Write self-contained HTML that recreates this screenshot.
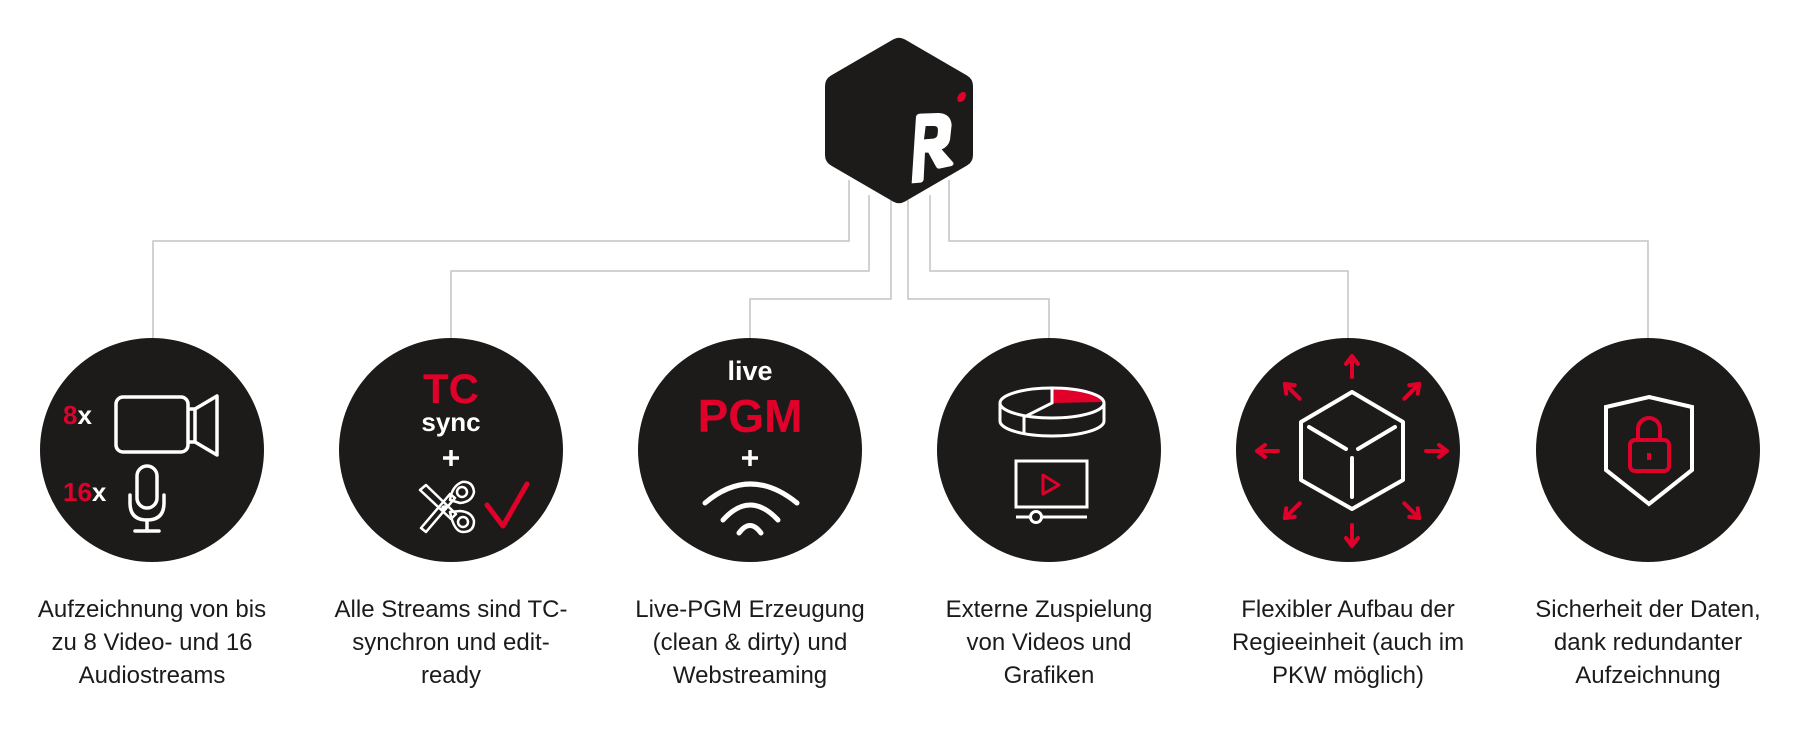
<!DOCTYPE html>
<html><head><meta charset="utf-8"><style>
html,body{margin:0;padding:0;background:#fff;}
svg{display:block}
</style></head><body>
<svg width="1798" height="746" viewBox="0 0 1798 746" xmlns="http://www.w3.org/2000/svg">
<g fill="none" stroke="#c4c4c4" stroke-width="1.5">
<polyline points="849,180 849,241 153,241 153,338"/>
<polyline points="869,195 869,271 451,271 451,338"/>
<polyline points="891,200 891,299 750,299 750,338"/>
<polyline points="908,200 908,299 1049,299 1049,338"/>
<polyline points="930,195 930,271 1348,271 1348,338"/>
<polyline points="949,180 949,241 1648,241 1648,338"/>
</g>
<path d="M893,39.5 Q899,36 905,39.5 L967,75.5 Q973,79 973,86 L973,155 Q973,162 967,165.5 L905,201.5 Q899,205 893,201.5 L831,165.5 Q825,162 825,155 L825,86 Q825,79 831,75.5 Z" fill="#1c1b1a"/>
<g transform="translate(800,20) scale(0.3333)">
<path d="M335,490 L348,290 Q350,282 360,281 L415,279 Q452,280 455,315 L450,360 Q445,380 425,388 L460,428 Q462,435 455,438 L418,446 Q412,447 408,440 L385,398 L375,398 L371,478 Q370,486 362,488 Z M377,318 L372,358 L400,356 Q412,354 413,342 L414,330 Q414,318 402,318 Z" fill="#fff" fill-rule="evenodd"/>
<ellipse cx="485" cy="231" rx="11" ry="17" transform="rotate(35 485 231)" fill="#e1002a"/>
</g>
<g fill="#1c1b1a">
<circle cx="152" cy="450" r="112"/><circle cx="451" cy="450" r="112"/><circle cx="750" cy="450" r="112"/>
<circle cx="1049" cy="450" r="112"/><circle cx="1348" cy="450" r="112"/><circle cx="1648" cy="450" r="112"/>
</g>
<!-- circle 1 -->
<g font-family="Liberation Sans, sans-serif" font-weight="bold" font-size="26">
<text x="63" y="424"><tspan fill="#e1002a">8</tspan><tspan fill="#fff">x</tspan></text>
<text x="63" y="501"><tspan fill="#e1002a">16</tspan><tspan fill="#fff">x</tspan></text>
</g>
<g fill="none" stroke="#fff" stroke-width="3.5" stroke-linejoin="round" stroke-linecap="round">
<rect x="116" y="397" width="72" height="55" rx="7"/>
<path d="M189,409 L195,409 L217,396 L217,455 L195,442 L189,442"/>
<line x1="195" y1="409" x2="195" y2="442"/>
<rect x="137" y="466" width="20" height="42" rx="10"/>
<path d="M130,495 L130,503 Q130,520 147,520 Q164,520 164,503 L164,495"/>
<line x1="147" y1="520" x2="147" y2="531"/><line x1="135" y1="531" x2="159" y2="531"/>
</g>
<!-- circle 2 -->
<text x="451" y="403" text-anchor="middle" font-family="Liberation Sans, sans-serif" font-weight="bold" font-size="42" fill="#e1002a">TC</text>
<text x="451" y="431" text-anchor="middle" font-family="Liberation Sans, sans-serif" font-weight="bold" font-size="26" fill="#fff">sync</text>
<g stroke="#fff" stroke-width="3.5"><line x1="451" y1="450" x2="451" y2="466"/><line x1="443" y1="458" x2="459" y2="458"/></g>
<g fill="none" stroke="#fff" stroke-width="2.5" stroke-linejoin="round">
<path d="M420,490 L426,485 L456,514 L451,519 Z"/>
<path d="M421,528 L426,532 L455,498 L450,494 Z"/>
<path d="M450,500 Q452,486 462,482 Q473,481 474,492 Q472,502 460,503 Z"/>
<circle cx="462" cy="492" r="5"/>
<path d="M450,512 Q454,532 463,532 Q474,532 474,521 Q472,512 460,511 Z"/>
<circle cx="463" cy="522" r="5"/>
<circle cx="444" cy="508" r="1.5" fill="#fff"/>
</g>
<path d="M487,505 L503,526 L527,484" fill="none" stroke="#e1002a" stroke-width="5" stroke-linecap="round" stroke-linejoin="round"/>
<!-- circle 3 -->
<text x="750" y="380" text-anchor="middle" font-family="Liberation Sans, sans-serif" font-weight="bold" font-size="27" fill="#fff">live</text>
<text x="750" y="432" text-anchor="middle" font-family="Liberation Sans, sans-serif" font-weight="bold" font-size="46" fill="#e1002a">PGM</text>
<g stroke="#fff" stroke-width="3.5"><line x1="750" y1="450" x2="750" y2="466"/><line x1="742" y1="458" x2="758" y2="458"/></g>
<g fill="none" stroke="#fff" stroke-width="5" stroke-linecap="round">
<path d="M705,503 Q750,465 797,503"/>
<path d="M723,520 Q750,490 778,520"/>
<path d="M739,533 Q750,518 761,533"/>
</g>
<!-- circle 4 -->
<path d="M1052,403 L1052,388 A52,15 0 0 1 1103,402 Z" fill="#e1002a"/>
<g fill="none" stroke="#fff" stroke-width="3">
<ellipse cx="1052" cy="403" rx="52" ry="15"/>
<path d="M1000,403 L1000,421 A52,15 0 0 0 1104,421 L1104,403"/>
<path d="M1052,388 L1052,403 L1024,417 L1024,434"/>
<rect x="1016" y="461" width="71" height="46"/>
<line x1="1016" y1="517" x2="1030" y2="517"/><line x1="1042" y1="517" x2="1087" y2="517"/>
<circle cx="1036" cy="517" r="5.5"/>
</g>
<path d="M1043,475 L1059,485 L1043,494 Z" fill="none" stroke="#e1002a" stroke-width="3" stroke-linejoin="round"/>
<!-- circle 5 -->
<g fill="none" stroke="#fff" stroke-width="4" stroke-linejoin="round" stroke-linecap="round">
<path d="M1352,392 L1403,422 L1403,480 L1352,509 L1301,480 L1301,422 Z"/>
<line x1="1309" y1="427" x2="1346" y2="449"/><line x1="1395" y1="427" x2="1358" y2="449"/><line x1="1352" y1="458" x2="1352" y2="497"/>
</g>
<g stroke="#e1002a" stroke-width="4" fill="none" stroke-linecap="round" stroke-linejoin="round">
<g transform="translate(1352,451)">
<g id="ar"><line x1="0" y1="-74" x2="0" y2="-94"/><path d="M-6,-87 L0,-95 L6,-87"/></g>
<use href="#ar" transform="rotate(45)"/><use href="#ar" transform="rotate(90)"/><use href="#ar" transform="rotate(135)"/>
<use href="#ar" transform="rotate(180)"/><use href="#ar" transform="rotate(225)"/><use href="#ar" transform="rotate(270)"/><use href="#ar" transform="rotate(315)"/>
</g>
</g>
<!-- circle 6 -->
<path d="M1649,397 L1692,407 L1692,470 L1649,504 L1606,470 L1606,407 Z" fill="none" stroke="#fff" stroke-width="4" stroke-linejoin="miter"/>
<g fill="none" stroke="#e1002a" stroke-width="4">
<rect x="1630" y="440" width="39" height="31" rx="5"/>
<path d="M1638,440 L1638,429 A11,11 0 0 1 1660,429 L1660,440"/>
<line x1="1649" y1="453" x2="1649" y2="460"/>
</g>
<!-- labels -->
<g font-family="Liberation Sans, sans-serif" font-size="24" fill="#1c1b1a" text-anchor="middle">
<text x="152" y="617">Aufzeichnung von bis</text><text x="152" y="650">zu 8 Video- und 16</text><text x="152" y="683">Audiostreams</text>
<text x="451" y="617">Alle Streams sind TC-</text><text x="451" y="650">synchron und edit-</text><text x="451" y="683">ready</text>
<text x="750" y="617">Live-PGM Erzeugung</text><text x="750" y="650">(clean &amp; dirty) und</text><text x="750" y="683">Webstreaming</text>
<text x="1049" y="617">Externe Zuspielung</text><text x="1049" y="650">von Videos und</text><text x="1049" y="683">Grafiken</text>
<text x="1348" y="617">Flexibler Aufbau der</text><text x="1348" y="650">Regieeinheit (auch im</text><text x="1348" y="683">PKW möglich)</text>
<text x="1648" y="617">Sicherheit der Daten,</text><text x="1648" y="650">dank redundanter</text><text x="1648" y="683">Aufzeichnung</text>
</g>
</svg>
</body></html>
